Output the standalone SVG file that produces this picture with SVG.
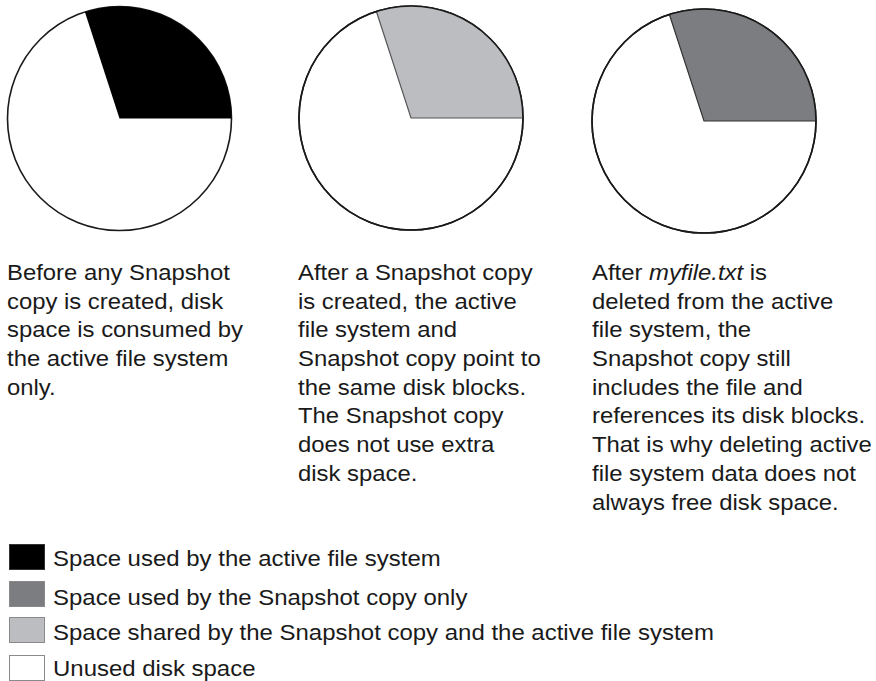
<svg xmlns="http://www.w3.org/2000/svg" width="876" height="681" viewBox="0 0 876 681">
  <style>
    .pie { stroke: #1a1a1a; stroke-width: 1.6; fill: #ffffff; }
    .wedge { stroke: none; }
    .active { fill: #000000; }
    .shared { fill: #bcbdc1; }
    .snaponly { fill: #7c7d81; }
    .unused { fill: #ffffff; }
    .wedge-edge { fill: none; stroke-width: 1.2; }
    .rim { fill: none; stroke: #1a1a1a; stroke-width: 1.6; }
    .txt { font-family: "Liberation Sans", Arial, Helvetica, sans-serif; font-size: 22px; fill: #1a1a1a; }
    .key { stroke: #8a8a8a; stroke-width: 1; }
    .key-dark { stroke: #333333; stroke-width: 1; }
  </style>

  <!-- Pie 1: before any Snapshot copy -->
  <g id="pie-before">
    <circle class="pie" cx="119.5" cy="118.5" r="112"/>
    <path class="wedge active" d="M119.5,118.5 L231.5,118.5 A112,112 0 0,0 84.9,12 Z"/>
  </g>

  <!-- Pie 2: after a Snapshot copy is created -->
  <g id="pie-after-snapshot">
    <circle class="pie" cx="411" cy="118" r="112"/>
    <path class="wedge shared" d="M411,118 L523,118 A112,112 0 0,0 376.4,11.5 Z"/>
    <path class="wedge-edge" d="M376.4,11.5 L411,118 L523,118" stroke="#555555"/>
    <circle class="rim" cx="411" cy="118" r="112"/>
  </g>

  <!-- Pie 3: after myfile.txt is deleted -->
  <g id="pie-after-delete">
    <circle class="pie" cx="704" cy="121" r="112"/>
    <path class="wedge snaponly" d="M704,121 L816,121 A112,112 0 0,0 669.4,14.5 Z"/>
    <path class="wedge-edge" d="M669.4,14.5 L704,121 L816,121" stroke="#333333"/>
    <circle class="rim" cx="704" cy="121" r="112"/>
  </g>

  <!-- Captions under each pie -->
  <g id="caption-before" transform="translate(7,0) scale(1.085,1)">
    <text class="txt">
      <tspan x="0" y="280">Before any Snapshot</tspan>
      <tspan x="0" y="308.7">copy is created, disk</tspan>
      <tspan x="0" y="337.4">space is consumed by</tspan>
      <tspan x="0" y="366.1">the active file system</tspan>
      <tspan x="0" y="394.8">only.</tspan>
    </text>
  </g>

  <g id="caption-after-snapshot" transform="translate(298,0) scale(1.085,1)">
    <text class="txt">
      <tspan x="0" y="280">After a Snapshot copy</tspan>
      <tspan x="0" y="308.7">is created, the active</tspan>
      <tspan x="0" y="337.4">file system and</tspan>
      <tspan x="0" y="366.1">Snapshot copy point to</tspan>
      <tspan x="0" y="394.8">the same disk blocks.</tspan>
      <tspan x="0" y="423.5">The Snapshot copy</tspan>
      <tspan x="0" y="452.2">does not use extra</tspan>
      <tspan x="0" y="480.9">disk space.</tspan>
    </text>
  </g>

  <g id="caption-after-delete" transform="translate(592,0) scale(1.085,1)">
    <text class="txt">
      <tspan x="0" y="280">After <tspan font-style="italic">myfile.txt</tspan> is</tspan>
      <tspan x="0" y="308.7">deleted from the active</tspan>
      <tspan x="0" y="337.4">file system, the</tspan>
      <tspan x="0" y="366.1">Snapshot copy still</tspan>
      <tspan x="0" y="394.8">includes the file and</tspan>
      <tspan x="0" y="423.5">references its disk blocks.</tspan>
      <tspan x="0" y="452.2">That is why deleting active</tspan>
      <tspan x="0" y="480.9">file system data does not</tspan>
      <tspan x="0" y="509.6">always free disk space.</tspan>
    </text>
  </g>

  <!-- Legend -->
  <g id="legend">
    <rect class="active key-dark" x="9.5" y="544.5" width="35" height="25"/>
    <rect class="snaponly key" x="9.5" y="581.5" width="35" height="25"/>
    <rect class="shared key" x="9.5" y="617.5" width="35" height="25"/>
    <rect class="unused key" x="9.5" y="655.5" width="35" height="25"/>
    <g transform="translate(53,0) scale(1.09,1)">
      <text class="txt" x="0" y="566">Space used by the active file system</text>
      <text class="txt" x="0" y="605">Space used by the Snapshot copy only</text>
      <text class="txt" x="0" y="640">Space shared by the Snapshot copy and the active file system</text>
      <text class="txt" x="0" y="676">Unused disk space</text>
    </g>
  </g>
</svg>
